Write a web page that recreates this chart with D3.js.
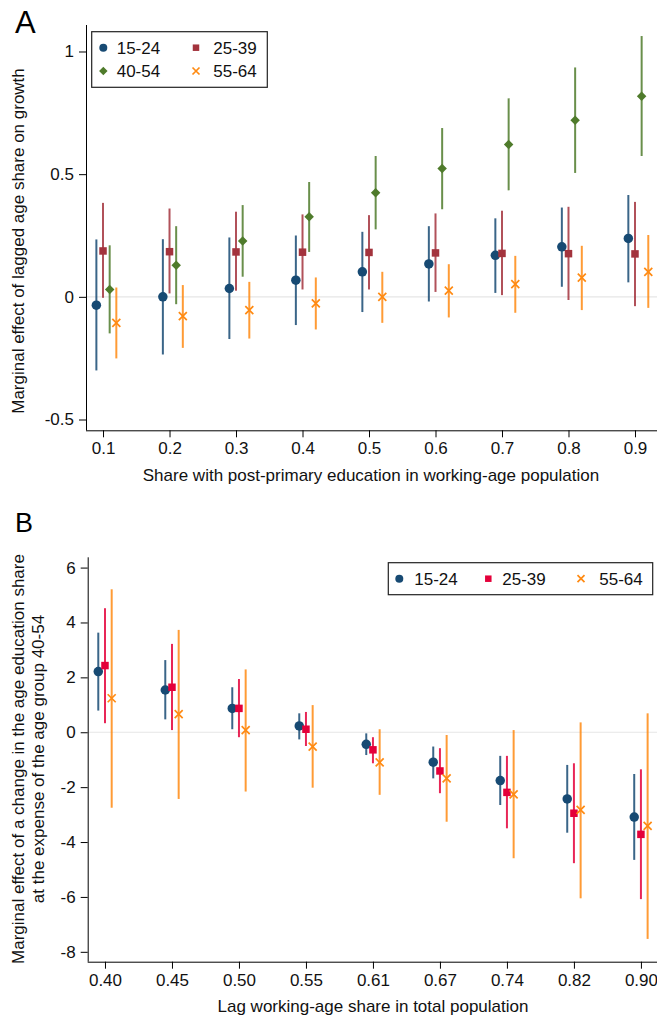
<!DOCTYPE html>
<html>
<head>
<meta charset="utf-8">
<script src="https://cdn.jsdelivr.net/npm/d3@7"></script>
<style>
body { margin: 0; background: #fff; }
svg { display: block; font-family: "Liberation Sans", Arial, sans-serif; }
</style>
</head>
<body>
<div id="dataviz"></div>
<script>
// panel A data
var xA = [0.1, 0.2, 0.3, 0.4, 0.5, 0.6, 0.7, 0.8, 0.9];
var a1524 = [-0.034, 0.000, 0.034, 0.068, 0.102, 0.134, 0.169, 0.204, 0.238];
var a1524lo = [-0.300, -0.235, -0.172, -0.115, -0.062, -0.019, 0.016, 0.041, 0.059];
var a1524hi = [0.234, 0.235, 0.242, 0.250, 0.265, 0.288, 0.320, 0.364, 0.415];
var a2539 = [0.187, 0.184, 0.183, 0.182, 0.181, 0.179, 0.177, 0.176, 0.175];
var a2539lo = [-0.004, 0.014, 0.025, 0.030, 0.030, 0.020, 0.007, -0.013, -0.038];
var a2539hi = [0.383, 0.360, 0.347, 0.336, 0.333, 0.340, 0.351, 0.367, 0.387];
var a4054 = [0.030, 0.129, 0.228, 0.326, 0.424, 0.523, 0.621, 0.720, 0.818];
var a4054lo = [-0.149, -0.030, 0.082, 0.183, 0.275, 0.357, 0.434, 0.505, 0.574];
var a4054hi = [0.210, 0.288, 0.374, 0.468, 0.574, 0.688, 0.809, 0.935, 1.063];
var a5564 = [-0.106, -0.079, -0.054, -0.027, 0.000, 0.025, 0.052, 0.078, 0.102];
var a5564lo = [-0.251, -0.208, -0.170, -0.133, -0.106, -0.084, -0.065, -0.054, -0.045];
var a5564hi = [0.038, 0.048, 0.061, 0.079, 0.102, 0.133, 0.167, 0.208, 0.252];
var yTicksA = [-0.5, 0, 0.5, 1];

// panel B data
var labelsB = ["0.40", "0.45", "0.50", "0.55", "0.61", "0.67", "0.74", "0.82", "0.90"];
var b1524 = [2.21, 1.54, 0.87, 0.23, -0.44, -1.09, -1.76, -2.43, -3.09];
var b1524lo = [0.79, 0.47, 0.11, -0.26, -0.83, -1.68, -2.65, -3.66, -4.65];
var b1524hi = [3.63, 2.63, 1.64, 0.69, -0.04, -0.52, -0.86, -1.19, -1.52];
var b2539 = [2.43, 1.64, 0.87, 0.11, -0.64, -1.41, -2.19, -2.95, -3.72];
var b2539lo = [0.33, 0.08, -0.18, -0.50, -1.13, -2.22, -3.50, -4.77, -6.08];
var b2539hi = [4.52, 3.22, 1.94, 0.74, -0.18, -0.58, -0.86, -1.13, -1.35];
var b5564 = [1.24, 0.66, 0.08, -0.52, -1.10, -1.68, -2.26, -2.83, -3.41];
var b5564lo = [-2.75, -2.43, -2.16, -2.02, -2.28, -3.26, -4.59, -6.05, -7.53];
var b5564hi = [5.21, 3.73, 2.29, 0.99, 0.11, -0.10, 0.08, 0.36, 0.69];
var yTicksB = [-8, -6, -4, -2, 0, 2, 4, 6];

var navy = "#174a73", maroon = "#a3333d", green = "#4f7b2b", orange = "#ff8a12", crimson = "#e4003a";

var svg = d3.select("#dataviz")
	.append("svg")
		.attr("width", 657)
		.attr("height", 1018);

function markerPath(shape, s) {
	if (shape == "circle") return d3.symbol().type(d3.symbolCircle).size(s * s * 0.785)();
	if (shape == "square") return d3.symbol().type(d3.symbolSquare).size(s * s)();
	if (shape == "diamond") { var h = s / 2; return "M0," + (-h) + "L" + h + ",0L0," + h + "L" + (-h) + ",0Z"; }
	var k = s / 2;
	return "M" + (-k) + "," + (-k) + "L" + k + "," + k + "M" + (-k) + "," + k + "L" + k + "," + (-k);
}

function drawMarker(g, shape, color, x, y, s) {
	var p = g.append("path")
		.attr("transform", "translate(" + x + "," + y + ")")
		.attr("d", markerPath(shape, s));
	if (shape == "x") p.attr("fill", "none").attr("stroke", color).attr("stroke-width", 1.7);
	else p.attr("fill", color);
}

function drawSeries(g, x, y, xs, off, mid, lo, hi, color, shape, s) {
	g.selectAll(null)
		.data(mid)
		.enter()
		.append("line")
			.attr("x1", function(d, i) { return x(xs[i] + off); })
			.attr("x2", function(d, i) { return x(xs[i] + off); })
			.attr("y1", function(d, i) { return y(lo[i]); })
			.attr("y2", function(d, i) { return y(hi[i]); })
			.attr("stroke", color)
			.attr("stroke-opacity", 0.85)
			.attr("stroke-width", 2);
	mid.forEach(function(d, i) { drawMarker(g, shape, color, x(xs[i] + off), y(d), s); });
}

function styleAxis(ax) {
	ax.select(".domain").attr("stroke", "#000");
	ax.selectAll(".tick line").attr("stroke", "#000");
	ax.selectAll(".tick text").attr("fill", "#111").style("font-size", "17px");
}

// ---------- panel A ----------
var xa = d3.scaleLinear().domain([0.0744, 0.9331]).range([86, 657]);
var ya = d3.scaleLinear().domain([-0.544, 1.108]).range([430.3, 25]);

var gA = svg.append("g");
gA.append("line")
	.attr("x1", 86).attr("x2", 657)
	.attr("y1", ya(0)).attr("y2", ya(0))
	.attr("stroke", "#e6e6e6").attr("stroke-width", 1.2);

drawSeries(gA, xa, ya, xA, -0.01, a1524, a1524lo, a1524hi, navy, "circle", 9.5);
drawSeries(gA, xa, ya, xA, 0, a2539, a2539lo, a2539hi, maroon, "square", 7.5);
drawSeries(gA, xa, ya, xA, 0.01, a4054, a4054lo, a4054hi, green, "diamond", 9.5);
drawSeries(gA, xa, ya, xA, 0.02, a5564, a5564lo, a5564hi, orange, "x", 8);

var axA = gA.append("g")
	.attr("transform", "translate(0,430.3)")
	.call(d3.axisBottom(xa).tickValues(xA).tickSize(7).tickPadding(5).tickFormat(d3.format(".1f")));
styleAxis(axA);
var ayA = gA.append("g")
	.attr("transform", "translate(86,0)")
	.call(d3.axisLeft(ya).tickValues(yTicksA).tickSize(7).tickPadding(5).tickFormat(function(d) { return String(d); }));
styleAxis(ayA);
axA.select(".domain").attr("d", "M86,0.5H657");
ayA.select(".domain").attr("d", "M0.5,25V430.3");

gA.append("text")
	.attr("x", 371).attr("y", 481)
	.attr("text-anchor", "middle")
	.style("font-size", "17px").attr("fill", "#111")
	.text("Share with post-primary education in working-age population");
gA.append("text")
	.attr("transform", "translate(24,241) rotate(-90)")
	.attr("text-anchor", "middle")
	.style("font-size", "17px").attr("fill", "#111")
	.text("Marginal effect of lagged age share on growth");
gA.append("text")
	.attr("x", 15).attr("y", 33)
	.style("font-size", "31px").attr("fill", "#000")
	.text("A");

// legend A
var legA = gA.append("g");
legA.append("rect")
	.attr("x", 91.7).attr("y", 31.7).attr("width", 175.6).attr("height", 55.6)
	.attr("fill", "#fff").attr("stroke", "#222").attr("stroke-width", 1.2);
var legItemsA = [
	{ name: "15-24", color: navy, shape: "circle", s: 8, x: 103.3, y: 47.7 },
	{ name: "25-39", color: maroon, shape: "square", s: 6.5, x: 196, y: 47.7 },
	{ name: "40-54", color: green, shape: "diamond", s: 8.5, x: 103.3, y: 71 },
	{ name: "55-64", color: orange, shape: "x", s: 7, x: 196, y: 71 }
];
legItemsA.forEach(function(d) {
	drawMarker(legA, d.shape, d.color, d.x, d.y, d.s);
	legA.append("text")
		.attr("x", d.x + (d.x < 150 ? 13.4 : 17.3)).attr("y", d.y + 6)
		.style("font-size", "17px").attr("fill", "#111")
		.text(d.name);
});

// ---------- panel B ----------
var idxB = labelsB.map(function(d, i) { return i; });
var xb = d3.scaleLinear().domain([-0.258, 8.24]).range([87.7, 657]);
var yb = d3.scaleLinear().domain([-8.36, 6.375]).range([961.7, 557.3]);

var gB = svg.append("g");
gB.append("line")
	.attr("x1", 87.7).attr("x2", 657)
	.attr("y1", yb(0)).attr("y2", yb(0))
	.attr("stroke", "#e6e6e6").attr("stroke-width", 1.2);

drawSeries(gB, xb, yb, idxB, -0.1, b1524, b1524lo, b1524hi, navy, "circle", 9.5);
drawSeries(gB, xb, yb, idxB, 0, b2539, b2539lo, b2539hi, crimson, "square", 7.5);
drawSeries(gB, xb, yb, idxB, 0.1, b5564, b5564lo, b5564hi, orange, "x", 8);

var axB = gB.append("g")
	.attr("transform", "translate(0,961.7)")
	.call(d3.axisBottom(xb).tickValues(idxB).tickSize(7).tickPadding(5).tickFormat(function(d) { return labelsB[d]; }));
styleAxis(axB);
var ayB = gB.append("g")
	.attr("transform", "translate(87.7,0)")
	.call(d3.axisLeft(yb).tickValues(yTicksB).tickSize(7).tickPadding(5).tickFormat(function(d) { return String(d); }));
styleAxis(ayB);
axB.select(".domain").attr("d", "M87.7,0.5H657");
ayB.select(".domain").attr("d", "M0.5,557.3V961.7");

gB.append("text")
	.attr("x", 373).attr("y", 1012)
	.attr("text-anchor", "middle")
	.style("font-size", "17px").attr("fill", "#111")
	.text("Lag working-age share in total population");
gB.append("text")
	.attr("transform", "translate(24,759) rotate(-90)")
	.attr("text-anchor", "middle")
	.style("font-size", "17px").attr("fill", "#111")
	.text("Marginal effect of a change in the age education share");
gB.append("text")
	.attr("transform", "translate(44,759) rotate(-90)")
	.attr("text-anchor", "middle")
	.style("font-size", "17px").attr("fill", "#111")
	.text("at the expense of the age group 40-54");
gB.append("text")
	.attr("x", 15).attr("y", 532)
	.style("font-size", "27px").attr("fill", "#000")
	.text("B");

// legend B
var legB = gB.append("g");
legB.append("rect")
	.attr("x", 388.3).attr("y", 562.7).attr("width", 264.4).attr("height", 32)
	.attr("fill", "#fff").attr("stroke", "#222").attr("stroke-width", 1.2);
var legItemsB = [
	{ name: "15-24", color: navy, shape: "circle", s: 8, x: 399.3, tx: 414.3 },
	{ name: "25-39", color: crimson, shape: "square", s: 6.5, x: 488.3, tx: 502.3 },
	{ name: "55-64", color: orange, shape: "x", s: 7, x: 581, tx: 599.3 }
];
legItemsB.forEach(function(d) {
	drawMarker(legB, d.shape, d.color, d.x, 578.7, d.s);
	legB.append("text")
		.attr("x", d.tx).attr("y", 584.7)
		.style("font-size", "17px").attr("fill", "#111")
		.text(d.name);
});
</script>
</body>
</html>
